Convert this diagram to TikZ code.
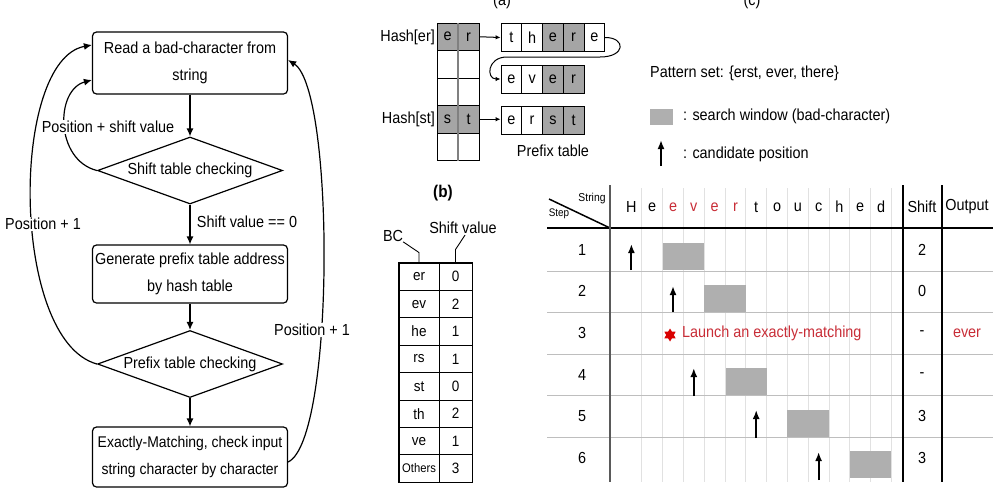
\documentclass[tikz,border=0pt]{standalone}
\usepackage{fontspec}
\setmainfont{Liberation Sans}[FakeStretch=0.9]
\usetikzlibrary{shapes.geometric,arrows.meta}
\definecolor{cellgray}{RGB}{165,165,165}
\definecolor{boxgray}{RGB}{175,175,175}
\definecolor{gridgray}{RGB}{225,225,225}
\definecolor{rowgray}{RGB}{190,190,190}
\definecolor{redtxt}{RGB}{200,45,55}
\definecolor{thickgray}{RGB}{90,90,90}
\begin{document}
\begin{tikzpicture}[x=1pt,y=-1pt,
  every node/.style={font=\fontsize{16}{19}\selectfont, inner sep=0pt},
  fbox/.style={draw, line width=1.2pt, rounded corners=4pt, minimum width=195pt, align=center, font=\fontsize{16}{27}\selectfont},
  fdia/.style={draw, diamond, line width=1.2pt, minimum width=185pt, minimum height=67pt, aspect=2.76},
  arr/.style={line width=1.2pt, -{Latex[length=8pt,width=7pt]}},
  lbl/.style={fill=white, inner sep=1.5pt},
  hc/.style={draw, line width=0.9pt, minimum width=21pt, minimum height=27.5pt},
  pc/.style={draw, line width=0.9pt, minimum width=20.75pt, minimum height=28pt},
  scell/.style={draw, line width=0.9pt, minimum height=27.4pt, font=\fontsize{15}{17}\selectfont},
  parr/.style={line width=1pt, -{Latex[length=5pt,width=4.5pt]}},
  carr/.style={line width=2pt, -{Latex[length=9pt,width=7pt]}},
  gbox/.style={fill=boxgray, minimum width=41.6pt, minimum height=27pt},
  thickv/.style={line width=2.6pt},
]
\useasboundingbox (0,0) rectangle (993,490);

% ---------------- flowchart ----------------
\node[fbox, minimum height=62pt] (rd) at (190,63) {Read a bad-character from\\string};
\node[fdia] (d1) at (190,170.5) {Shift table checking};
\node[fbox, minimum height=58pt] (gp) at (190,274) {Generate prefix table address\\by hash table};
\node[fdia] (d2) at (190,364) {Prefix table checking};
\node[fbox, minimum height=60pt, font=\fontsize{15.5}{27}\selectfont] (em) at (190,457) {Exactly-Matching, check input\\string character by character};

\draw[arr] (rd) -- (d1);
\draw[arr] (d1) -- (gp);
\draw[arr] (gp) -- (d2);
\draw[arr] (d2) -- (em);

\draw[arr] (d1.west) .. controls (55,160) and (55,90) .. ([yshift=-17pt]rd.west);
\draw[arr] (d2.west) .. controls (10,340) and (10,60) .. ([yshift=18pt]rd.west);
\draw[arr] ([yshift=-5pt]em.east) .. controls (335,440) and (335,90) .. ([yshift=3pt]rd.east);

\node[lbl] (l1) at (108,127) {Position + shift value};
\node[lbl] (l2) at (43,224) {Position + 1};
\node[lbl] (l3) at (312,330) {Position + 1};
\node (l4) at (247,222) {Shift value == 0};

% ---------------- (a) hash table ----------------
\node[anchor=south] (ta) at (502,9) {(a)};
\node[hc, fill=cellgray] (h11) at (447.5,36.75) {e};
\node[hc, fill=cellgray] (h12) at (468.5,36.75) {r};
\node[hc] (h21) at (447.5,64.25) {};
\node[hc] (h22) at (468.5,64.25) {};
\node[hc] (h31) at (447.5,91.75) {};
\node[hc] (h32) at (468.5,91.75) {};
\node[hc, fill=cellgray] (h41) at (447.5,119.25) {s};
\node[hc, fill=cellgray] (h42) at (468.5,119.25) {t};
\node[hc] (h51) at (447.5,146.75) {};
\node[hc] (h52) at (468.5,146.75) {};
\draw[line width=2pt, gray] (h11.north east) -- (h51.south east);
\node[anchor=east] (hk1) at (435,37) {Hash[er]};
\node[anchor=east] (hk2) at (435,119) {Hash[st]};

\node[pc] (pa1) at (511.4,37.5) {t};
\node[pc] (pa2) at (532.1,37.5) {h};
\node[pc, fill=cellgray] (pa3) at (552.9,37.5) {e};
\node[pc, fill=cellgray] (pa4) at (573.6,37.5) {r};
\node[pc] (pa5) at (594.4,37.5) {e};

\node[pc] (pb1) at (511.4,79) {e};
\node[pc] (pb2) at (532.1,79) {v};
\node[pc, fill=cellgray] (pb3) at (552.9,79) {e};
\node[pc, fill=cellgray] (pb4) at (573.6,79) {r};

\node[pc] (pc1) at (511.4,120) {e};
\node[pc] (pc2) at (532.1,120) {r};
\node[pc, fill=cellgray] (pc3) at (552.9,120) {s};
\node[pc, fill=cellgray] (pc4) at (573.6,120) {t};
\node (ptl) at (553,151) {Prefix table};

\draw[parr] (h12.east) -- (pa1.west);
\draw[parr] (h42.east) -- (h42.east -| pc1.west);
\draw[parr] (pa5.east) .. controls (626,37.5) and (626,57) .. (600,57) -- (507,57) .. controls (487,57) and (486,79) .. (pb1.west);

% ---------------- (b) shift table ----------------
\node[font=\bfseries\fontsize{17}{19}\selectfont] (tb) at (443,193) {(b)};
\node (bc) at (393,236) {BC};
\node (svl) at (463,228) {Shift value};
\foreach \k/\v [count=\r] in {er/0, ev/2, he/1, rs/1, st/0, th/2, ve/1} {
  \node[scell, minimum width=40pt] (ba\r) at (419,{263+27.4*(\r-0.5)}) {\k};
  \node[scell, minimum width=33pt] (bb\r) at (455.5,{263+27.4*(\r-0.5)}) {\v};
}
\node[scell, minimum width=40pt, font=\fontsize{12.5}{14}\selectfont] (ba8) at (419,468.5) {Others};
\node[scell, minimum width=33pt] (bb8) at (455.5,468.5) {3};
\draw[line width=1.2pt] (ba1.north west) rectangle (bb8.south east);
\draw[line width=0.9pt] (bc.south east) -- ([yshift=10pt]ba1.north) -- (ba1.north);
\draw[line width=0.9pt] ([xshift=2pt,yshift=-1pt]svl.south) -- ([yshift=13pt]bb1.north) -- (bb1.north);

% ---------------- legend ----------------
\node[anchor=south] (tc) at (752,9) {(c)};
\node[anchor=west] (ps) at (650,73) {Pattern set: \{erst, ever, there\}};
\node[fill=boxgray, minimum width=23pt, minimum height=16pt] (lg) at (661.5,117) {};
\node[anchor=west] (sw) at (683,116) {: search window (bad-character)};
\coordinate (la1) at (661,166);
\coordinate (la2) at (661,140);
\draw[carr] (la1) -- (la2);
\node[anchor=west] (cp) at (683,154) {: candidate position};

% ---------------- (c) table ----------------
\foreach \k in {1,...,13} {
  \draw[gridgray, line width=1pt] ({621+20.8*\k},188) -- ({621+20.8*\k},482);
}
\foreach \yy in {271,312,354,395,437} {
  \draw[rowgray, line width=0.9pt] (547,\yy) -- (993,\yy);
}
\draw[line width=2pt] (547,228) -- (993,228);
\draw[line width=1.5pt] (549,199) -- (610,228);
\draw[thickv, thickgray] (610,185) -- (610,482);
\draw[thickv] (903,185) -- (903,482);
\draw[thickv] (942,185) -- (942,482);

\node[font=\fontsize{11.5}{13}\selectfont] (strl) at (592,199) {String};
\node[font=\fontsize{11}{13}\selectfont] (stpl) at (559,214) {Step};

\foreach \ch/\cl [count=\k from 0] in {H/black, e/black, e/redtxt, v/redtxt, e/redtxt, r/redtxt, t/black, o/black, u/black, c/black, h/black, e/black, d/black} {
  \node[text=\cl] (ch\k) at ({631.4+20.8*\k},207) {\ch};
}
\node (shh) at (922,207) {Shift};
\node (outh) at (967,207) {Output};

\foreach \r/\v in {1/2, 2/0, 3/-, 4/-, 5/3, 6/3} {
  \node (st\r) at (582,{229+41.6*(\r-0.5)}) {\r};
  \node (sv\r) at (922,{229+41.6*(\r-0.5)}) {\v};
}
\node[text=redtxt] (out3) at (967,333) {ever};

\node[gbox] (w1) at (683.4,256.5) {};
\node[gbox] (w2) at (725,298.5) {};
\node[gbox] (w4) at (746.6,381.5) {};
\node[gbox] (w5) at (808.2,423) {};
\node[gbox] (w6) at (870.6,464.5) {};

\coordinate (a1s) at (631.4,270); \coordinate (a1e) at (631.4,244);
\coordinate (a2s) at (673,312);   \coordinate (a2e) at (673,286);
\coordinate (a4s) at (693.8,396); \coordinate (a4e) at (693.8,368);
\coordinate (a5s) at (756.2,438); \coordinate (a5e) at (756.2,410);
\coordinate (a6s) at (818.6,480); \coordinate (a6e) at (818.6,452);
\draw[carr] (a1s) -- (a1e);
\draw[carr] (a2s) -- (a2e);
\draw[carr] (a4s) -- (a4e);
\draw[carr] (a5s) -- (a5e);
\draw[carr] (a6s) -- (a6e);

\node[star, star points=6, star point ratio=1.7, fill=red!85!black, minimum size=13pt] (sr) at (670,335) {};
\node[anchor=west, text=redtxt] (lm) at (682,333) {Launch an exactly-matching};
\end{tikzpicture}
\end{document}
